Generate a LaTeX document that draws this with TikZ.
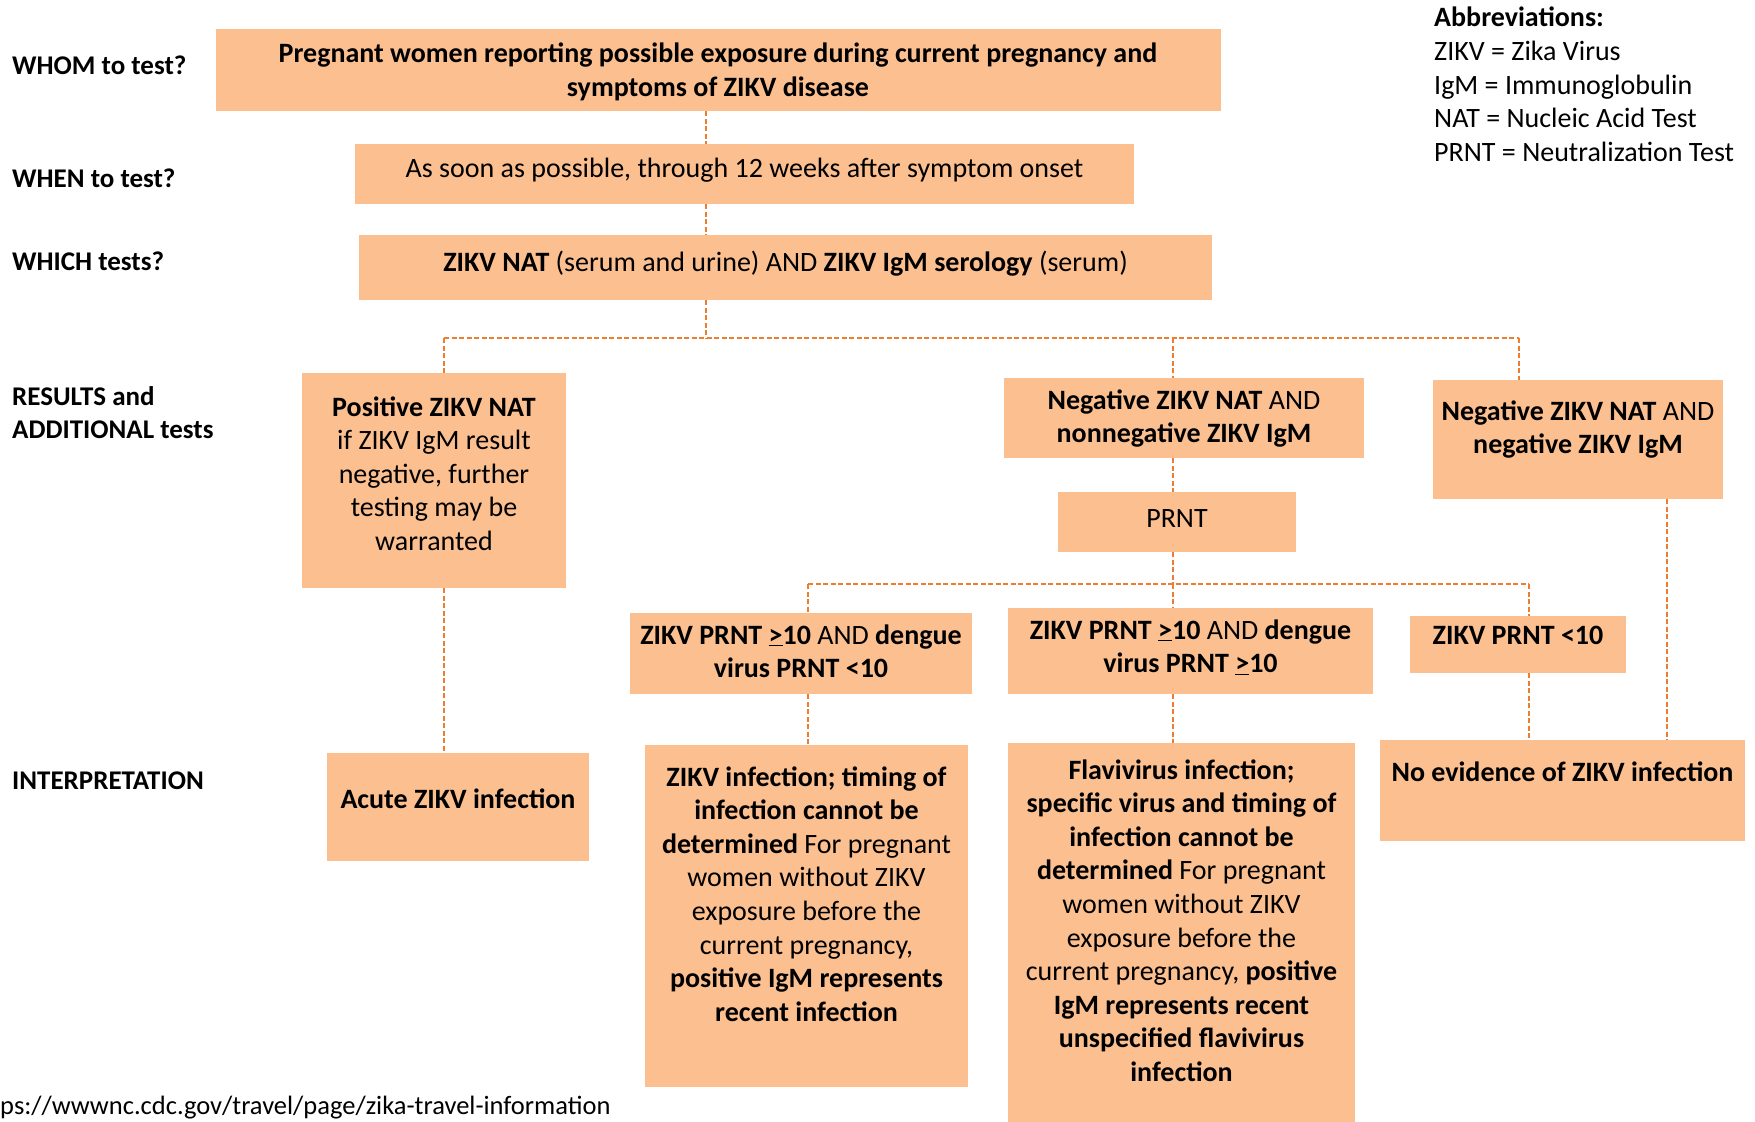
\documentclass[tikz,border=0pt]{standalone}
\usepackage{fontspec}
\setmainfont{Carlito}
\definecolor{boxfill}{RGB}{251,191,144}
\definecolor{lineor}{RGB}{237,125,49}
\newcommand{\fsz}[2]{\fontsize{#1}{#2}\selectfont}
\newcommand{\natsp}{\spaceskip=0.2265em\xspaceskip=0.2265em\relax}
\tikzset{
  bx/.style={fill=boxfill, draw=none, inner sep=0pt, anchor=north west},
  tx/.style={anchor=base, inner sep=0pt, align=center, text width=560pt, font=\fsz{28}{33.6}, execute at begin node=\natsp},
  lbl/.style={anchor=base west, inner sep=0pt, align=left, text width=260pt, font=\bfseries\fsz{27}{33}, execute at begin node=\natsp},
  con/.style={draw=lineor, line width=1.8pt, dash pattern=on 5pt off 2.5pt},
}
\begin{document}
\begin{tikzpicture}[x=1pt,y=-1pt]
\useasboundingbox (0,0) rectangle (1755,1121);

% boxes
\node[bx, minimum width=1005pt, minimum height=82pt] (b1) at (216,29) {};
\node[bx, minimum width=779pt, minimum height=60pt] (b2) at (355,144) {};
\node[bx, minimum width=853pt, minimum height=65pt] (b3) at (359,235) {};
\node[bx, minimum width=264pt, minimum height=215pt] (pos) at (302,373) {};
\node[bx, minimum width=360pt, minimum height=80pt] (nn) at (1004,378) {};
\node[bx, minimum width=290pt, minimum height=119pt] (ng) at (1433,380) {};
\node[bx, minimum width=238pt, minimum height=60pt] (prnt) at (1058,492) {};
\node[bx, minimum width=342pt, minimum height=81pt] (d1) at (630,613) {};
\node[bx, minimum width=365pt, minimum height=86pt] (d2) at (1008,608) {};
\node[bx, minimum width=216pt, minimum height=57pt] (d3) at (1410,616) {};
\node[bx, minimum width=262pt, minimum height=108pt] (acute) at (327,753) {};
\node[bx, minimum width=323pt, minimum height=342pt] (zi) at (645,745) {};
\node[bx, minimum width=347pt, minimum height=385pt] (fl) at (1008,743) {};
\node[bx, minimum width=365pt, minimum height=101pt] (no) at (1380,740) {};

% junction coordinates
\coordinate (j1) at (706,338);
\coordinate (h1L) at (444,338);
\coordinate (h1M) at (1173,338);
\coordinate (h1R) at (1519,338);
\coordinate (j2) at (1173,584);
\coordinate (h2L) at (808,584);
\coordinate (h2R) at (1529,584);
\coordinate (vng) at (1667,499);

% connectors
\draw[con] (b1.south -| j1) -- (b2.north -| j1);
\draw[con] (b2.south -| j1) -- (b3.north -| j1);
\draw[con] (b3.south -| j1) -- (j1);
\draw[con] (h1L) -- (h1R);
\draw[con] (h1L) -- (h1L |- pos.north);
\draw[con] (h1M) -- (h1M |- nn.north);
\draw[con] (h1R) -- (h1R |- ng.north);
\draw[con] (pos.south -| h1L) -- (acute.north -| h1L);
\draw[con] (nn.south -| j2) -- (prnt.north -| j2);
\draw[con] (prnt.south -| j2) -- (j2);
\draw[con] (h2L) -- (h2R);
\draw[con] (h2L) -- (h2L |- d1.north);
\draw[con] (j2) -- (j2 |- d2.north);
\draw[con] (h2R) -- (h2R |- d3.north);
\draw[con] (d1.south -| h2L) -- (zi.north -| h2L);
\draw[con] (d2.south -| j2) -- (fl.north -| j2);
\draw[con] (d3.south -| h2R) -- (no.north -| h2R);
\draw[con] (vng) -- (no.north -| vng);

% box texts
\node[tx, text width=1000pt] (t1) at (718,63) {\bfseries Pregnant women reporting possible exposure during current pregnancy and\\symptoms of ZIKV disease};
\node[tx, text width=900pt] (t2) at (744.5,177) {As soon as possible, through 12 weeks after symptom onset};
\node[tx, text width=900pt] (t3) at (785.5,271) {\textbf{ZIKV NAT} (serum and urine) AND \textbf{ZIKV IgM serology} (serum)};
\node[tx] (tpos) at (434,416) {\textbf{Positive ZIKV NAT}\\if ZIKV IgM result\\negative, further\\testing may be\\warranted};
\node[tx] (tnn) at (1184,409) {\textbf{Negative ZIKV NAT} AND\\\textbf{nonnegative ZIKV IgM}};
\node[tx] (tng) at (1578,420) {\textbf{Negative ZIKV NAT} AND\\\textbf{negative ZIKV IgM}};
\node[tx] (tprnt) at (1177,527) {PRNT};
\node[tx] (td1) at (801,644) {\textbf{ZIKV PRNT \underline{>}10} AND \textbf{dengue}\\\textbf{virus PRNT <10}};
\node[tx] (td2) at (1190.5,639) {\textbf{ZIKV PRNT \underline{>}10} AND \textbf{dengue}\\\textbf{virus PRNT \underline{>}10}};
\node[tx] (td3) at (1518,644) {\textbf{ZIKV PRNT <10}};
\node[tx] (tac) at (458,808) {\textbf{Acute ZIKV infection}};
\node[tx] (tzi) at (806.5,786) {\textbf{ZIKV infection; timing of}\\\textbf{infection cannot be}\\\textbf{determined} For pregnant\\women without ZIKV\\exposure before the\\current pregnancy,\\\textbf{positive IgM represents}\\\textbf{recent infection}};
\node[tx] (tfl) at (1181.5,779) {\textbf{Flavivirus infection;}\\\textbf{specific virus and timing of}\\\textbf{infection cannot be}\\\textbf{determined} For pregnant\\women without ZIKV\\exposure before the\\current pregnancy, \textbf{positive}\\\textbf{IgM represents recent}\\\textbf{unspecified flavivirus}\\\textbf{infection}};
\node[tx] (tno) at (1562.5,781) {\textbf{No evidence of ZIKV infection}};

% left labels
\node[lbl] (lwhom) at (12,75) {WHOM to test?};
\node[lbl] (lwhen) at (12,187) {WHEN to test?};
\node[lbl] (lwhich) at (12,270) {WHICH tests?};
\node[lbl] (lres) at (12,405) {RESULTS and\\ADDITIONAL tests};
\node[lbl] (lint) at (12,789) {INTERPRETATION};

% abbreviations
\node[anchor=base west, inner sep=0pt, align=left, text width=330pt, font=\fsz{28}{33.6}, execute at begin node=\natsp] (abbr) at (1434,27) {\textbf{Abbreviations:}\\ZIKV = Zika Virus\\IgM = Immunoglobulin\\NAT = Nucleic Acid Test\\PRNT = Neutralization Test};

% source url
\node[anchor=base west, inner sep=0pt, font=\fsz{26.5}{32}] (url) at (0,1114) {ps://wwwnc.cdc.gov/travel/page/zika-travel-information};
\end{tikzpicture}
\end{document}
